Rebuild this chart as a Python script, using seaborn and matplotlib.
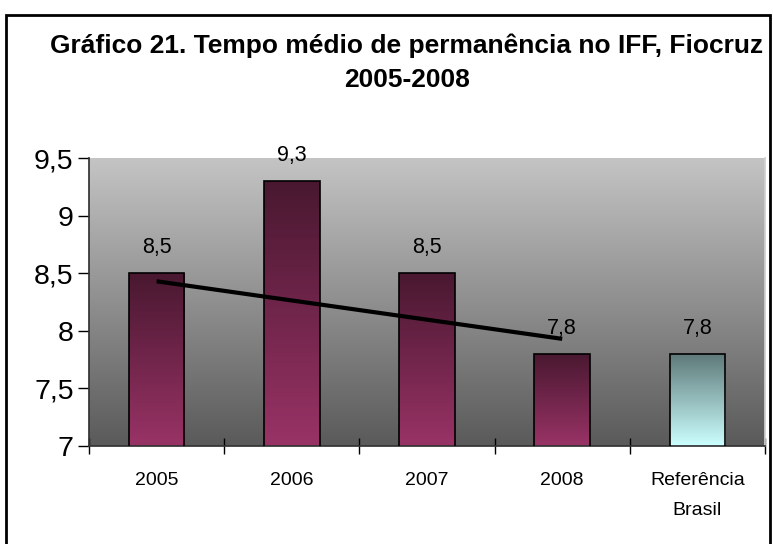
import numpy as np
import pandas as pd
import matplotlib
matplotlib.use("Agg")
from matplotlib import pyplot as plt
from matplotlib.colors import LinearSegmentedColormap
from matplotlib.patches import Rectangle
import seaborn as sns

categories = ["2005", "2006", "2007", "2008", "Referência\nBrasil"]
values = [8.5, 9.3, 8.5, 7.8, 7.8]
labels = ["8,5", "9,3", "8,5", "7,8", "7,8"]
trend_cats = [0, 3]
trend_values = [8.43, 7.93]
y_ticks = [7, 7.5, 8, 8.5, 9, 9.5]
y_tick_labels = ["7", "7,5", "8", "8,5", "9", "9,5"]

sns.set_theme(style="white")
plt.rcParams['font.family'] = ['Liberation Sans', 'DejaVu Sans']
plt.rcParams['text.color'] = 'black'
plt.rcParams['xtick.color'] = 'black'
plt.rcParams['ytick.color'] = 'black'

df = pd.DataFrame({"cat": categories, "val": values})

fig = plt.figure(figsize=(7.73, 5.44), dpi=100)
ax = fig.add_axes([89 / 773, 98 / 544, 676 / 773, 288 / 544])

sns.barplot(data=df, x="cat", y="val", ax=ax, width=0.41,
            color="#993366", edgecolor="black", linewidth=1.2, zorder=3)

ax.set_ylim(7, 9.5)
ax.set_xlim(-0.5, 4.5)

# background gradient of the plot area
bg = LinearSegmentedColormap.from_list("bg", ["#5a5a5a", "#c4c4c4"])
grad = np.linspace(0, 1, 256).reshape(-1, 1)
ax.imshow(grad, aspect="auto", cmap=bg, origin="lower",
          extent=[-0.5, 4.5, 7, 9.5], zorder=0)

# gradient fill for the bars
bar_cm = LinearSegmentedColormap.from_list("bar", ["#993366", "#491830"])
ref_cm = LinearSegmentedColormap.from_list("ref", ["#ccffff", "#5e7878"])
for i, p in enumerate(ax.patches):
    cm = ref_cm if i == 4 else bar_cm
    x0, w = p.get_x(), p.get_width()
    top = p.get_height() + p.get_y()
    im = ax.imshow(grad, aspect="auto", cmap=cm, origin="lower",
                   extent=[x0, x0 + w, 7, top], zorder=2)
    im.set_clip_path(p)
    p.set_facecolor("none")
    ax.annotate(labels[i], (x0 + w / 2, top), xytext=(0, 11),
                textcoords="offset points", ha="center", va="bottom",
                fontsize=15.5, color="black", annotation_clip=False)

ax.plot(trend_cats, trend_values, color="black", linewidth=3, zorder=4,
        solid_capstyle="butt")

ax.set_xlabel("")
ax.set_ylabel("")
ax.set_yticks(y_ticks)
ax.set_yticklabels(y_tick_labels, fontsize=20.5)
ax.set_xticks(range(len(categories)))
ax.set_xticklabels(categories, fontsize=14, linespacing=2.0)
ax.tick_params(axis="x", length=0, pad=19)
ax.tick_params(axis="y", left=True, length=8, width=1, direction="out", pad=3)
ax.set_xticks(np.arange(-0.5, 5, 1), minor=True)
ax.tick_params(axis="x", which="minor", bottom=True, length=11, width=1, direction="inout")

ax.spines["top"].set_visible(False)
ax.spines["right"].set_color("#d0d0d0")
ax.spines["left"].set_color("#333333")
ax.spines["bottom"].set_color("#333333")

fig.text(407 / 773, 1 - 63 / 544, "Gráfico 21. Tempo médio de permanência no IFF, Fiocruz\n2005-2008",
         ha="center", va="center", fontsize=19, fontweight="bold", linespacing=1.5)

fig.patches.append(Rectangle((6 / 773, -0.05), 764 / 773, 1.05 - 15 / 544, transform=fig.transFigure,
                             fill=False, edgecolor="black", linewidth=2))

fig.savefig("out.png", dpi=100)
